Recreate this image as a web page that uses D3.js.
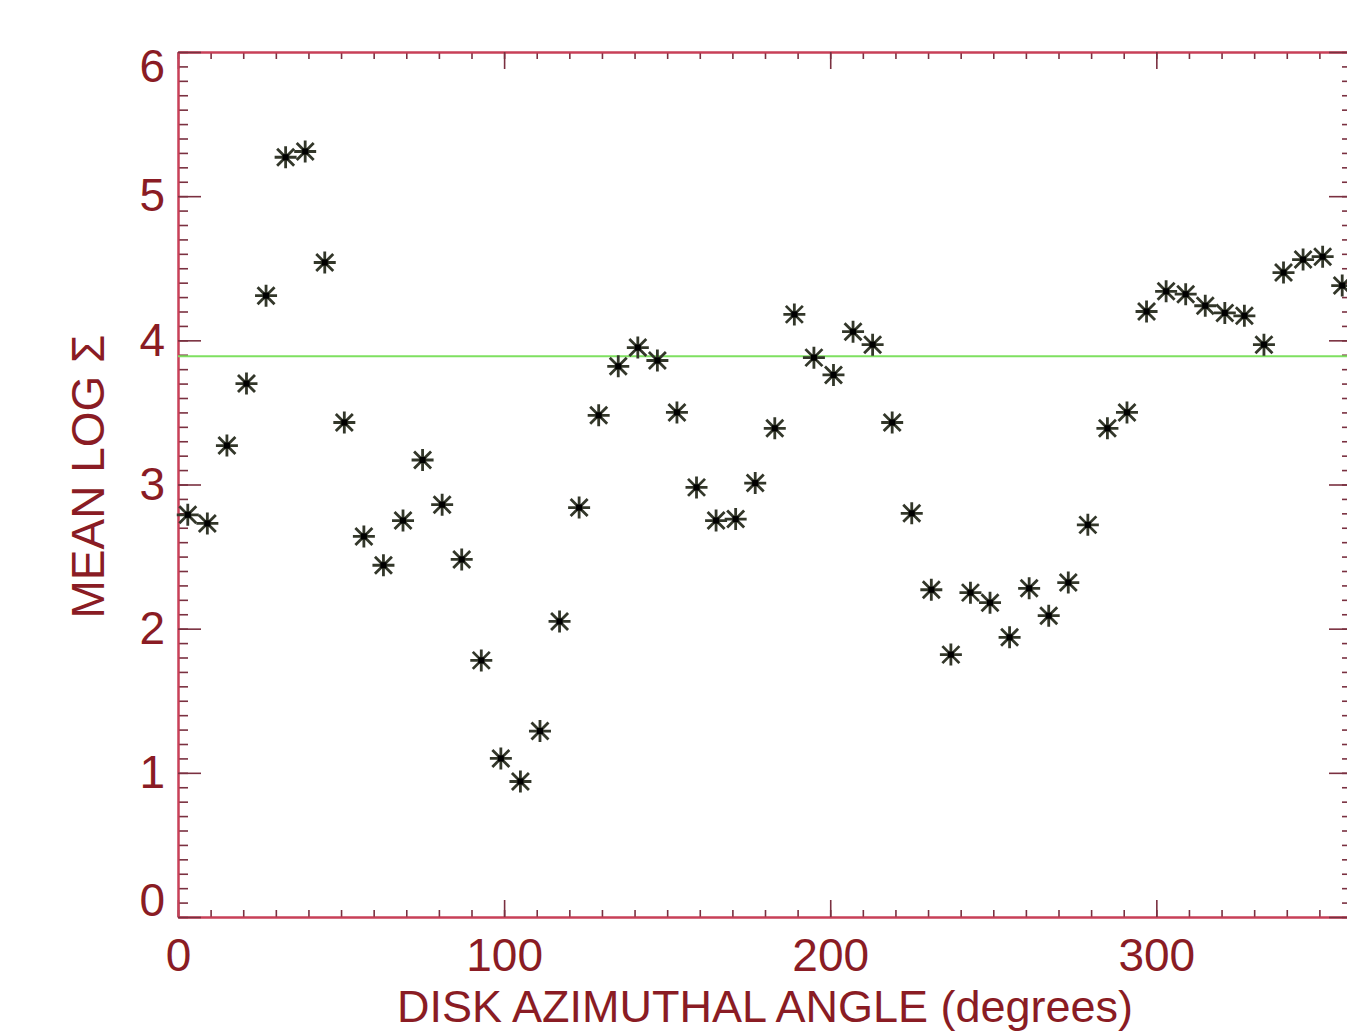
<!DOCTYPE html>
<html>
<head>
<meta charset="utf-8">
<script src="https://cdn.jsdelivr.net/npm/d3@7"></script>
<style>
  html, body { margin: 0; padding: 0; background: #fff; }
  svg { display: block; font-family: "Liberation Sans", Arial, Helvetica, sans-serif; }
</style>
</head>
<body>
<div id="chart"></div>
<script>
// azimuthal bins (degrees) and the mean log surface density in each
const angles = d3.range(60).map(i => 3 + 6 * i);
const meanLogSigma = [
  2.79, 2.73, 3.27, 3.70, 4.31, 5.27, 5.31, 4.54, 3.43, 2.64,
  2.44, 2.75, 3.17, 2.86, 2.48, 1.78, 1.10, 0.94, 1.29, 2.05,
  2.84, 3.48, 3.82, 3.95, 3.86, 3.50, 2.98, 2.75, 2.76, 3.01,
  3.39, 4.18, 3.88, 3.76, 4.06, 3.97, 3.43, 2.80, 2.27, 1.82,
  2.25, 2.18, 1.94, 2.28, 2.09, 2.32, 2.72, 3.39, 3.50, 4.20,
  4.34, 4.32, 4.24, 4.19, 4.17, 3.97, 4.47, 4.56, 4.58, 4.38
];
const meanLevel = 3.89;
const xTicks = [0, 100, 200, 300];
const yTicks = [0, 1, 2, 3, 4, 5, 6];

const width = 1347, height = 1032;
const margin = { top: 52, right: -5, bottom: 115, left: 178 };
const textColor = '#8a1c24';
const axisColor = '#c84058';
const tickColor = '#7a3040';

const svg = d3.select('#chart')
  .append('svg')
  .attr('width', width)
  .attr('height', height);

svg.append('rect').attr('width', width).attr('height', height).attr('fill', '#fff');

const x = d3.scaleLinear().domain([0, 360]).range([margin.left, width - margin.right]);
const y = d3.scaleLinear().domain([0, 6]).range([height - margin.bottom, margin.top]);

function styleAxis(g) {
  g.select('.domain').attr('stroke', axisColor).attr('stroke-width', 2);
  g.selectAll('.tick line').attr('stroke', tickColor).attr('stroke-width', 1.6);
  g.selectAll('.tick text')
    .attr('fill', textColor)
    .style('font-size', '46px');
}

const x0 = x.range()[0], x1 = x.range()[1];
const y0 = y.range()[0], y1 = y.range()[1];

// minor ticks first, then majors on top
svg.append('g').attr('transform', `translate(0,${y0})`)
  .call(d3.axisBottom(x).ticks(36).tickSize(-7).tickFormat('').tickSizeOuter(0))
  .call(styleAxis);
svg.append('g').attr('transform', `translate(0,${y1})`)
  .call(d3.axisTop(x).ticks(36).tickSize(-7).tickFormat('').tickSizeOuter(0))
  .call(styleAxis);
svg.append('g').attr('transform', `translate(${x0},0)`)
  .call(d3.axisLeft(y).ticks(60).tickSize(-10).tickFormat('').tickSizeOuter(0))
  .call(styleAxis);
svg.append('g').attr('transform', `translate(${x1},0)`)
  .call(d3.axisRight(y).ticks(60).tickSize(-10).tickFormat('').tickSizeOuter(0))
  .call(styleAxis);

svg.append('g').attr('transform', `translate(0,${y0})`)
  .call(d3.axisBottom(x).tickValues(xTicks).tickSize(-17).tickPadding(21).tickSizeOuter(0))
  .call(styleAxis);
svg.append('g').attr('transform', `translate(0,${y1})`)
  .call(d3.axisTop(x).tickValues(xTicks).tickSize(-17).tickFormat('').tickSizeOuter(0))
  .call(styleAxis);

const yAxis = svg.append('g').attr('transform', `translate(${x0},0)`)
  .call(d3.axisLeft(y).tickValues(yTicks).tickFormat(d3.format('d'))
    .tickSize(-23).tickPadding(13).tickSizeOuter(0))
  .call(styleAxis);
// end labels sit inside the frame, as in the original plot
yAxis.selectAll('.tick text')
  .attr('y', d => d === 6 ? 15 : d === 0 ? -16 : 0);

svg.append('g').attr('transform', `translate(${x1},0)`)
  .call(d3.axisRight(y).tickValues(yTicks).tickSize(-23).tickFormat('').tickSizeOuter(0))
  .call(styleAxis);

// mean level
svg.append('line')
  .attr('x1', x0).attr('x2', x1)
  .attr('y1', y(meanLevel)).attr('y2', y(meanLevel))
  .attr('stroke', '#7ee060')
  .attr('stroke-width', 2);

// asterisk markers (plus + cross)
const r = 11, d = 8.5;
const star = `M${-r},0H${r}M0,${-r}V${r}M${-d},${-d}L${d},${d}M${-d},${d}L${d},${-d}`;
const pts = svg.append('g')
  .selectAll('g')
  .data(angles.map((a, i) => ({ a, v: meanLogSigma[i] })))
  .enter()
  .append('g')
  .attr('transform', p => `translate(${x(p.a)},${y(p.v)})`);
pts.append('path')
  .attr('d', star)
  .attr('stroke', '#33372a')
  .attr('stroke-width', 2.8)
  .attr('fill', 'none');
pts.append('rect')
  .attr('x', -3).attr('y', -3)
  .attr('width', 6).attr('height', 6)
  .attr('fill', '#000');

// axis titles
svg.append('text')
  .attr('x', (x0 + x1) / 2)
  .attr('y', 1022)
  .attr('text-anchor', 'middle')
  .attr('fill', textColor)
  .style('font-size', '45px')
  .text('DISK AZIMUTHAL ANGLE (degrees)');

svg.append('text')
  .attr('transform', `translate(104,${(y0 + y1) / 2 - 8}) rotate(-90)`)
  .attr('text-anchor', 'middle')
  .attr('fill', textColor)
  .style('font-size', '46px')
  .text('MEAN LOG Σ');
</script>
</body>
</html>
